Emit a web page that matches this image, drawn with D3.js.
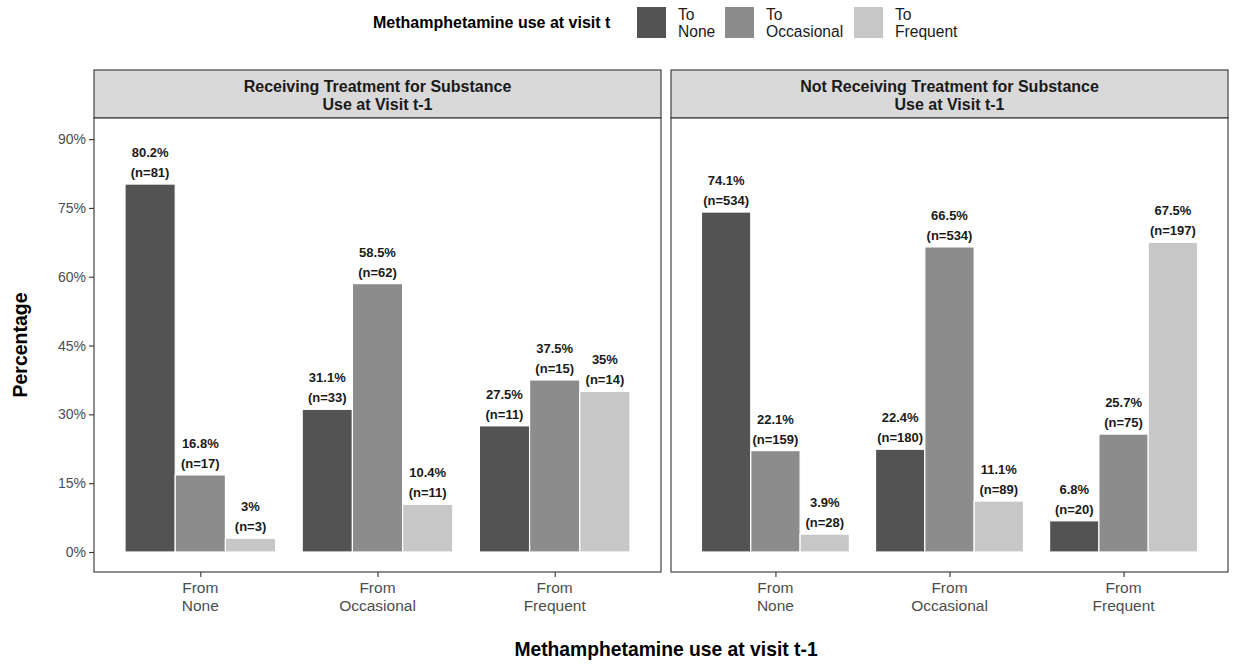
<!DOCTYPE html>
<html>
<head>
<meta charset="utf-8">
<script src="https://cdn.jsdelivr.net/npm/d3@7"></script>
<style>
  html, body { margin: 0; padding: 0; background: #fff; }
  svg { display: block; font-family: "Liberation Sans", Arial, sans-serif; }
</style>
</head>
<body>
<svg id="chart" width="1241" height="665"></svg>
<script>
// Transition categories
const fromStates = ["From\nNone", "From\nOccasional", "From\nFrequent"];
const toStates = ["To\nNone", "To\nOccasional", "To\nFrequent"];
const panels = ["Receiving Treatment for Substance\nUse at Visit t-1",
                "Not Receiving Treatment for Substance\nUse at Visit t-1"];

// Percentages, rows = from-state, columns = to-state
const treatedPct = [[80.2, 16.8, 3], [31.1, 58.5, 10.4], [27.5, 37.5, 35]];
const treatedN   = [[81, 17, 3], [33, 62, 11], [11, 15, 14]];
const untreatedPct = [[74.1, 22.1, 3.9], [22.4, 66.5, 11.1], [6.8, 25.7, 67.5]];
const untreatedN   = [[534, 159, 28], [180, 534, 89], [20, 75, 197]];

const yTicks = [0, 15, 30, 45, 60, 75, 90];
const fills = ["#535353", "#8c8c8c", "#c7c7c7"];

const svg = d3.select("#chart");

const plotTop = 118, plotBottom = 572, stripTop = 70;
const panelBoxes = [
  { x0: 94, x1: 661, pct: treatedPct, n: treatedN, title: panels[0] },
  { x0: 671, x1: 1228, pct: untreatedPct, n: untreatedN, title: panels[1] }
];

const y = d3.scaleLinear().domain([-4.36, 94.6]).range([plotBottom, plotTop]);

panelBoxes.forEach((p, pi) => {
  const g = svg.append("g");
  // Discrete x scale with 0.6 unit expansion on both sides
  const unit = (p.x1 - p.x0) / 3.2;
  const x = d3.scalePoint().domain(fromStates).range([p.x0 + 0.6 * unit, p.x1 - 0.6 * unit]);
  const inner = d3.scaleBand().domain(toStates).range([-0.425 * unit, 0.425 * unit]);

  // Strip
  g.append("rect").attr("x", p.x0).attr("y", stripTop)
    .attr("width", p.x1 - p.x0).attr("height", plotTop - stripTop)
    .attr("fill", "#d9d9d9").attr("stroke", "#333").attr("stroke-width", 1.1);
  const st = g.append("text").attr("text-anchor", "middle")
    .attr("font-size", 16).attr("font-weight", "bold").attr("fill", "#1a1a1a");
  p.title.split("\n").forEach((line, i) => {
    st.append("tspan").attr("x", (p.x0 + p.x1) / 2).attr("y", 92 + i * 18).text(line);
  });

  // Panel background
  g.append("rect").attr("x", p.x0).attr("y", plotTop)
    .attr("width", p.x1 - p.x0).attr("height", plotBottom - plotTop)
    .attr("fill", "#fff");

  // Bars
  fromStates.forEach((f, fi) => {
    toStates.forEach((t, ti) => {
      const v = p.pct[fi][ti];
      const bx = x(f) + inner(t);
      g.append("rect")
        .attr("x", bx).attr("y", y(v))
        .attr("width", inner.bandwidth()).attr("height", y(0) - y(v))
        .attr("fill", fills[ti]).attr("stroke", "#fff").attr("stroke-width", 1.2);
      const cx = bx + inner.bandwidth() / 2;
      const lab = g.append("text").attr("text-anchor", "middle")
        .attr("font-size", 13).attr("font-weight", "bold").attr("fill", "#1a1a1a");
      lab.append("tspan").attr("x", cx).attr("y", y(v) - 27).text(`${v}%`);
      lab.append("tspan").attr("x", cx).attr("y", y(v) - 7).text(`(n=${p.n[fi][ti]})`);
    });
  });

  // Panel border
  g.append("rect").attr("x", p.x0).attr("y", plotTop)
    .attr("width", p.x1 - p.x0).attr("height", plotBottom - plotTop)
    .attr("fill", "none").attr("stroke", "#333").attr("stroke-width", 1.1);

  // x axis
  const xa = g.append("g").attr("transform", `translate(0,${plotBottom})`)
    .call(d3.axisBottom(x).tickSize(5).tickSizeOuter(0).tickFormat(""));
  xa.select(".domain").remove();
  xa.selectAll(".tick line").attr("stroke", "#333").attr("stroke-width", 1.1);
  fromStates.forEach(f => {
    const tl = g.append("text").attr("text-anchor", "middle")
      .attr("font-size", 15.5).attr("fill", "#4d4d4d");
    f.split("\n").forEach((line, i) => {
      tl.append("tspan").attr("x", x(f)).attr("y", 593 + i * 18).text(line);
    });
  });

  // y axis on the first panel only
  if (pi === 0) {
    const ya = g.append("g").attr("transform", `translate(${p.x0},0)`)
      .call(d3.axisLeft(y).tickValues(yTicks).tickSize(5).tickFormat(d => d + "%"));
    ya.select(".domain").remove();
    ya.selectAll(".tick line").attr("stroke", "#333").attr("stroke-width", 1.1);
    ya.selectAll(".tick text").attr("font-size", 14).attr("fill", "#4d4d4d")
      .attr("font-family", "'Liberation Sans', Arial, sans-serif").attr("x", -8);
  }
});

// Axis titles
svg.append("text").attr("x", 666).attr("y", 656).attr("text-anchor", "middle")
  .attr("font-size", 19.3).attr("font-weight", "bold").attr("fill", "#000")
  .text("Methamphetamine use at visit t-1");
svg.append("text").attr("transform", "translate(27,345) rotate(-90)")
  .attr("text-anchor", "middle").attr("font-size", 19.5).attr("font-weight", "bold")
  .attr("fill", "#000").text("Percentage");

// Legend
const leg = svg.append("g");
leg.append("text").attr("x", 373).attr("y", 28).attr("font-size", 16)
  .attr("font-weight", "bold").attr("fill", "#000").text("Methamphetamine use at visit t");
const legX = [637, 725, 854];
toStates.forEach((t, i) => {
  leg.append("rect").attr("x", legX[i]).attr("y", 7).attr("width", 29).attr("height", 31)
    .attr("fill", fills[i]);
  const lt = leg.append("text").attr("font-size", 15.6).attr("fill", "#1a1a1a");
  t.split("\n").forEach((line, j) => {
    lt.append("tspan").attr("x", legX[i] + 41).attr("y", 20 + j * 17).text(line);
  });
});
</script>
</body>
</html>
